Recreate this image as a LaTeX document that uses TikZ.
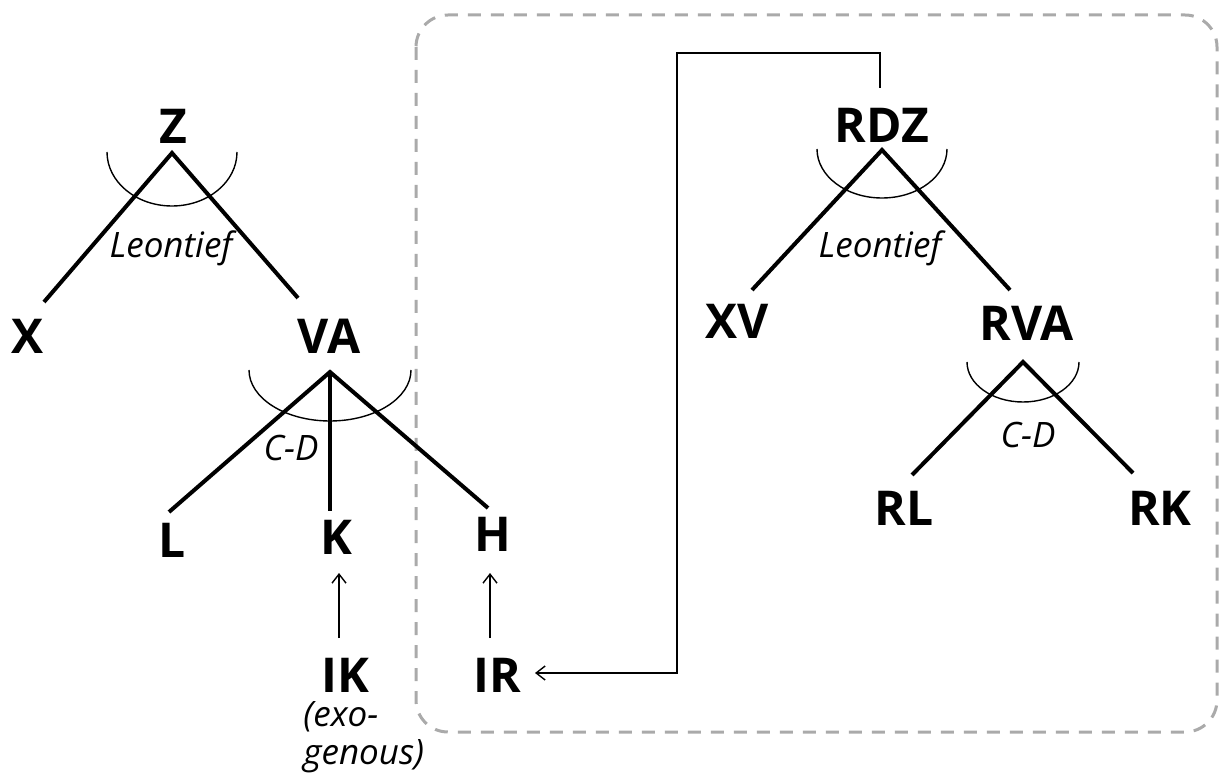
\documentclass[tikz,border=0pt]{standalone}
\usepackage{fontspec}
\setmainfont{Open Sans}
\usetikzlibrary{arrows.meta}
\definecolor{boxgray}{RGB}{170,170,170}
\begin{document}
\begin{tikzpicture}[x=0.5pt,y=-0.5pt,
  lab/.style={font=\fontsize{24}{28}\selectfont\bfseries, inner sep=0pt},
  ital/.style={font=\fontsize{17.5}{19}\selectfont\itshape, inner sep=0pt},
  branch/.style={line width=2pt},
  cesarc/.style={line width=0.7pt},
  arr/.style={line width=0.7pt,-{Straight Barb[length=4.5pt,width=7pt]}},
  region/.style={draw=boxgray, line width=1.5pt, dash pattern=on 6.5pt off 5pt, rounded corners=16pt}
]
\useasboundingbox (0,0) rectangle (1219,774);

% dashed region
\draw[region] (416,15) rectangle (1217,732);

% labels
\node[lab] (Z) at (173,126) {Z};
\node[lab] (X) at (28,336) {X};
\node[lab] (VA) at (329,336) {VA};
\node[lab] (L) at (172,540) {L};
\node[lab] (K) at (336,537) {K};
\node[lab] (H) at (493,534) {H};
\node[lab] (IK) at (345,675) {IK};
\node[lab] (IR) at (497,675) {IR};
\node[lab] (RDZ) at (882,125) {RDZ};
\node[lab] (XV) at (737,321) {XV};
\node[lab] (RVA) at (1027,323) {RVA};
\node[lab] (RL) at (904,508) {RL};
\node[lab] (RK) at (1160,508) {RK};

\node[ital] (leo1) at (171,248) {Leontief};
\node[ital] (leo2) at (880,248) {Leontief};
\node[ital] (cd1) at (291,448) {C-D};
\node[ital] (cd2) at (1028,435) {C-D};
\node[ital, align=left, anchor=north west] (exo) at (303,701) {(exo-\\genous)};

% branch points and ends
\coordinate (Za) at (172,153);
\coordinate (Xe) at (44,302);
\coordinate (VAe) at (298,298);
\coordinate (VAa) at (330,372);
\coordinate (Le) at (169,512);
\coordinate (Ke) at (330,511);
\coordinate (He) at (488,508);
\coordinate (RDZa) at (882,150);
\coordinate (XVe) at (752,290);
\coordinate (RVAe) at (1010,290);
\coordinate (RVAa) at (1023,362);
\coordinate (RLe) at (912,475);
\coordinate (RKe) at (1133,473);

\draw[branch] (Xe) -- (Za) -- (VAe);
\draw[branch] (Le) -- (VAa) -- (He);
\draw[branch] (VAa) -- (Ke);
\draw[branch] (XVe) -- (RDZa) -- (RVAe);
\draw[branch] (RLe) -- (RVAa) -- (RKe);

% CES arcs
\draw[cesarc] (107,152) arc[start angle=180,end angle=0,x radius=65,y radius=54];
\draw[cesarc] (249,370) arc[start angle=180,end angle=0,x radius=81,y radius=51];
\draw[cesarc] (817,149) arc[start angle=180,end angle=0,x radius=65,y radius=49];
\draw[cesarc] (967,362) arc[start angle=180,end angle=0,x radius=56,y radius=40];

% arrows
\coordinate (Kt) at (339,573);
\coordinate (Kb) at (339,638);
\coordinate (Ht) at (490,573);
\coordinate (Hb) at (490,638);
\draw[arr] (Kb) -- (Kt);
\draw[arr] (Hb) -- (Ht);

\coordinate (Rs) at (880,88);
\draw[arr] (Rs) -- (880,53) -- (677,53) -- (677,673) -- (535,673);
\end{tikzpicture}
\end{document}
